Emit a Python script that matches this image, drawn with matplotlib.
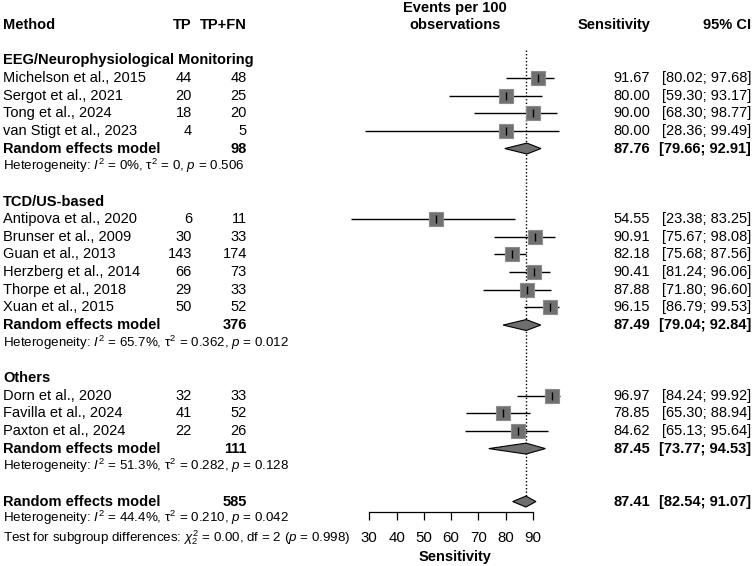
import matplotlib
matplotlib.use('Agg')
import matplotlib.pyplot as plt
from matplotlib.patches import Polygon

plt.rcParams['font.family'] = ['Liberation Sans', 'DejaVu Sans']
plt.rcParams['mathtext.fontset'] = 'custom'
plt.rcParams['mathtext.rm'] = 'Liberation Sans'
plt.rcParams['mathtext.it'] = 'Liberation Sans:italic'
plt.rcParams['mathtext.bf'] = 'Liberation Sans:bold'

# ---------------- data ----------------
group_names = ["EEG/Neurophysiological Monitoring", "TCD/US-based", "Others"]

eeg_studies = ["Michelson et al., 2015", "Sergot et al., 2021", "Tong et al., 2024", "van Stigt et al., 2023"]
eeg_tp = [44, 20, 18, 4]
eeg_n = [48, 25, 20, 5]
eeg_sens = [91.67, 80.00, 90.00, 80.00]
eeg_lo = [80.02, 59.30, 68.30, 28.36]
eeg_hi = [97.68, 93.17, 98.77, 99.49]
eeg_pooled = [87.76, 79.66, 92.91]
eeg_total = 98
eeg_het = ["0%", "0", "0.506"]

tcd_studies = ["Antipova et al., 2020", "Brunser et al., 2009", "Guan et al., 2013",
               "Herzberg et al., 2014", "Thorpe et al., 2018", "Xuan et al., 2015"]
tcd_tp = [6, 30, 143, 66, 29, 50]
tcd_n = [11, 33, 174, 73, 33, 52]
tcd_sens = [54.55, 90.91, 82.18, 90.41, 87.88, 96.15]
tcd_lo = [23.38, 75.67, 75.68, 81.24, 71.80, 86.79]
tcd_hi = [83.25, 98.08, 87.56, 96.06, 96.60, 99.53]
tcd_pooled = [87.49, 79.04, 92.84]
tcd_total = 376
tcd_het = ["65.7%", "0.362", "0.012"]

oth_studies = ["Dorn et al., 2020", "Favilla et al., 2024", "Paxton et al., 2024"]
oth_tp = [32, 41, 22]
oth_n = [33, 52, 26]
oth_sens = [96.97, 78.85, 84.62]
oth_lo = [84.24, 65.30, 65.13]
oth_hi = [99.92, 88.94, 95.64]
oth_pooled = [87.45, 73.77, 94.53]
oth_total = 111
oth_het = ["51.3%", "0.282", "0.128"]

overall_pooled = [87.41, 82.54, 91.07]
overall_total = 585
overall_het = ["44.4%", "0.210", "0.042"]
subgroup_test = ["0.00", "2", "0.998"]

x_ticks = [30, 40, 50, 60, 70, 80, 90]

groups = [
    (group_names[0], eeg_studies, eeg_tp, eeg_n, eeg_sens, eeg_lo, eeg_hi, eeg_pooled, eeg_total, eeg_het),
    (group_names[1], tcd_studies, tcd_tp, tcd_n, tcd_sens, tcd_lo, tcd_hi, tcd_pooled, tcd_total, tcd_het),
    (group_names[2], oth_studies, oth_tp, oth_n, oth_sens, oth_lo, oth_hi, oth_pooled, oth_total, oth_het),
]

# ---------------- layout ----------------
W, H = 753, 566
ROW0, ROWH = 25.0, 17.65
r_top = -ROW0 / ROWH
r_bot = (H - ROW0) / ROWH

fig = plt.figure(figsize=(W / 100, H / 100), dpi=100)
tax = fig.add_axes([0, 0, 1, 1])
tax.set_xlim(0, W)
tax.set_ylim(r_bot, r_top)
tax.axis('off')

ax_left, ax_right, ax_bottom_px = 345, 565, 512
px_per_unit = (533.0 - 369.3) / 60.0
xlo = 30 - (369.3 - ax_left) / px_per_unit
xhi = 90 + (ax_right - 533.0) / px_per_unit
r_axis = (ax_bottom_px - ROW0) / ROWH
fax = fig.add_axes([ax_left / W, (H - ax_bottom_px) / H, (ax_right - ax_left) / W, ax_bottom_px / H])
fax.set_xlim(xlo, xhi)
fax.set_ylim(r_axis, r_top)
fax.patch.set_alpha(0)
for s in ['top', 'left', 'right']:
    fax.spines[s].set_visible(False)
fax.spines['bottom'].set_bounds(30, 90)
fax.spines['bottom'].set_linewidth(0.9)
fax.set_yticks([])
fax.set_xticks(x_ticks)
fax.tick_params(axis='x', direction='out', length=5.5, width=0.9, labelsize=10.8, pad=8)

FS = 10.5
HFS = 9.6
X_NAME, X_TP, X_N, X_SENS, X_CI, X_MID = 3, 192, 247, 650, 751, 455

def txt(x, r, s, ha='left', bold=False, size=FS):
    tax.text(x, r, s, ha=ha, va='center', fontsize=size,
             fontweight='bold' if bold else 'normal')

# header
txt(X_NAME, 0, "Method", bold=True)
txt(X_TP, 0, "TP", ha='right', bold=True)
txt(X_N, 0, "TP+FN", ha='right', bold=True)
txt(X_MID, -0.95, "Events per 100", ha='center', bold=True)
txt(X_MID, 0, "observations", ha='center', bold=True)
txt(X_SENS, 0, "Sensitivity", ha='right', bold=True)
txt(X_CI, 0, "95% CI", ha='right', bold=True)

SQ_FACE, SQ_EDGE = '#707070', '#8c8c8c'
DIA_FACE = '#6e6e6e'
DH = 0.31

def diamond(r, est, lo, hi):
    fax.add_patch(Polygon([(lo, r), (est, r - DH), (hi, r), (est, r + DH)], closed=True,
                          facecolor=DIA_FACE, edgecolor='black', lw=0.8, zorder=4))

def het_text(r, h):
    txt(X_NAME, r, "Heterogeneity: $I^2$ = %s, \u03c4$^2$ = %s, $p$ = %s" % (h[0], h[1], h[2]), size=HFS)

r = 2
for name, studies, tp, n, sens, lo, hi, pooled, total, het in groups:
    txt(X_NAME, r, name, bold=True)
    r += 1
    for i in range(len(studies)):
        txt(X_NAME, r, studies[i])
        txt(X_TP, r, str(tp[i]), ha='right')
        txt(X_N, r, str(n[i]), ha='right')
        txt(X_SENS, r, "%.2f" % sens[i], ha='right')
        txt(X_CI, r, "[%.2f; %.2f]" % (lo[i], hi[i]), ha='right')
        fax.plot([lo[i], hi[i]], [r, r], color='black', lw=1.0, zorder=3, solid_capstyle='butt')
        fax.plot([sens[i]], [r], marker='s', ms=9.8, mfc=SQ_FACE, mec=SQ_EDGE, mew=0.8, zorder=4)
        fax.plot([sens[i]], [r], marker='|', ms=5.5, mew=1.0, color='black', zorder=5)
        r += 1
    txt(X_NAME, r, "Random effects model", bold=True)
    txt(X_N, r, str(total), ha='right', bold=True)
    txt(X_SENS, r, "%.2f" % pooled[0], ha='right', bold=True)
    txt(X_CI, r, "[%.2f; %.2f]" % (pooled[1], pooled[2]), ha='right', bold=True)
    diamond(r, *pooled)
    r += 1
    het_text(r, het)
    r += 2

# overall
r_over = r
txt(X_NAME, r, "Random effects model", bold=True)
txt(X_N, r, str(overall_total), ha='right', bold=True)
txt(X_SENS, r, "%.2f" % overall_pooled[0], ha='right', bold=True)
txt(X_CI, r, "[%.2f; %.2f]" % (overall_pooled[1], overall_pooled[2]), ha='right', bold=True)
diamond(r, *overall_pooled)
het_text(r + 0.95, overall_het)
txt(X_NAME, r + 2.05, r"Test for subgroup differences: $\chi^2_2$ = %s, df = %s ($p$ = %s)" % tuple(subgroup_test),
    size=HFS)

# reference line
fax.vlines(overall_pooled[0], 1.42, r_over - DH, colors='black', linestyles=(0, (1, 1.5)), lw=1.0, zorder=2)

# x label
txt(X_MID, (557 - ROW0) / ROWH, "Sensitivity", ha='center', bold=True)

fig.savefig('out.png', dpi=100)
